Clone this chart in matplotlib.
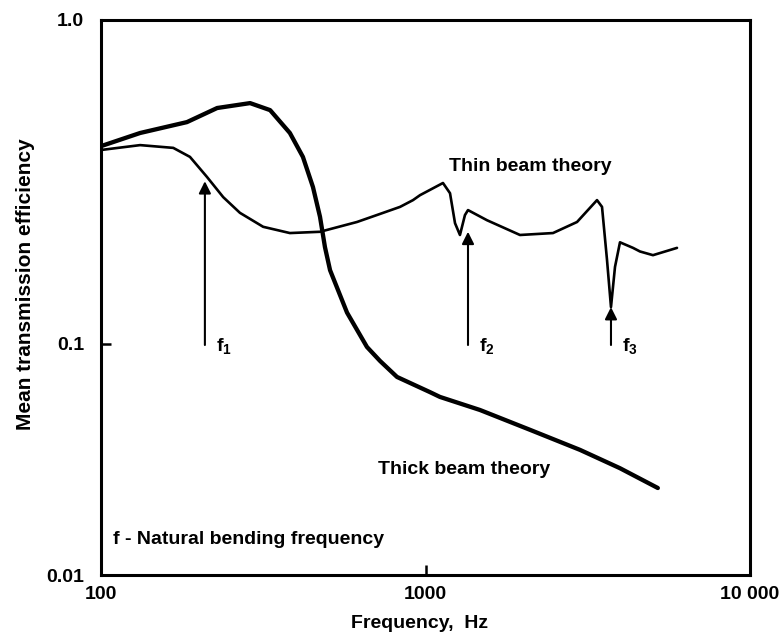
import numpy as np
import matplotlib
matplotlib.use("Agg")
import matplotlib.pyplot as plt
from matplotlib.ticker import FixedLocator, NullLocator, FixedFormatter

plt.rcParams["font.family"] = ["Liberation Sans", "DejaVu Sans"]
plt.rcParams["mathtext.fontset"] = "custom"
plt.rcParams["mathtext.rm"] = "Liberation Sans:bold"

# thick beam theory curve
thick_f = [100, 132, 184, 228, 288, 332, 382, 419, 450, 473, 490, 508, 573,
           660, 724, 817, 1032, 1108, 1472, 2100, 2994, 3973, 5200]
thick_eff = [0.408, 0.448, 0.484, 0.535, 0.554, 0.527, 0.448, 0.378, 0.305,
             0.247, 0.199, 0.169, 0.125, 0.0971, 0.0845, 0.0720, 0.0619,
             0.0590, 0.0518, 0.0425, 0.0348, 0.0290, 0.0238]

# thin beam theory curve
thin_f = [100, 132, 167, 188, 212, 238, 268, 316, 382, 473, 615, 724, 835,
          915, 962, 1132, 1190, 1233, 1277, 1323, 1352, 1547, 1955, 2471,
          2931, 3377, 3499, 3625, 3729, 3837, 3975, 4360, 4581, 5024, 5957]
thin_eff = [0.397, 0.411, 0.403, 0.378, 0.328, 0.284, 0.254, 0.230, 0.220,
            0.222, 0.238, 0.252, 0.265, 0.278, 0.288, 0.314, 0.292, 0.236,
            0.217, 0.250, 0.259, 0.241, 0.217, 0.220, 0.238, 0.278, 0.265,
            0.182, 0.130, 0.173, 0.206, 0.198, 0.193, 0.188, 0.198]

# natural bending frequencies (arrow x, arrow tip on curve)
nat_f = [209, 1352, 3729]
nat_tip = [0.318, 0.222, 0.130]
nat_base = 0.099
nat_labels = [r"f$_{\mathregular{1}}$", r"f$_{\mathregular{2}}$", r"f$_{\mathregular{3}}$"]

yticks = [0.01, 0.1, 1.0]
ytick_labels = ["0.01", "0.1", "1.0"]
xticks = [100, 1000, 10000]
xtick_labels = ["100", "1000", "10 000"]

# the printed y axis has unequal decades (upper one taller)
UP, LO = 324 / 231, 1.0


def _fwd(v):
    lv = np.log10(np.clip(np.asarray(v, dtype=float), 1e-12, None))
    return np.where(lv >= -1, (lv + 1) * UP, (lv + 1) * LO)


def _inv(t):
    t = np.asarray(t, dtype=float)
    return np.where(t >= 0, 10 ** (t / UP - 1), 10 ** (t / LO - 1))


fig = plt.figure(figsize=(7.84, 6.4), dpi=100, facecolor="white")
ax = fig.add_axes([101 / 784, 1 - 575 / 640, 649 / 784, 555 / 640])

ax.set_xscale("log")
ax.set_yscale("function", functions=(_fwd, _inv))
ax.set_xlim(100, 10000)
ax.set_ylim(0.01, 1.0)

ax.plot(thick_f, thick_eff, color="black", lw=3.1,
        solid_capstyle="round", solid_joinstyle="round")
ax.plot(thin_f, thin_eff, color="black", lw=1.9,
        solid_capstyle="round", solid_joinstyle="round")

for f, tip, lab in zip(nat_f, nat_tip, nat_labels):
    ax.annotate("", xy=(f, tip), xytext=(f, nat_base),
                arrowprops=dict(arrowstyle="-|>", color="black", lw=1.5,
                                mutation_scale=18, shrinkA=0, shrinkB=0))
    ax.text(f * 1.08, nat_base * 0.985, lab, fontsize=14, fontweight="bold",
            ha="left", va="center")

txt = dict(fontsize=14, fontweight="bold", va="center")
ax.text(2099, 0.352, "Thin beam theory", ha="center", **txt)
ax.text(714, 0.0285, "Thick beam theory", ha="left", **txt)
ax.text(109, 0.0142, "f - Natural bending frequency", ha="left", **txt)

ax.xaxis.set_major_locator(FixedLocator(xticks))
ax.xaxis.set_major_formatter(FixedFormatter(xtick_labels))
ax.xaxis.set_minor_locator(NullLocator())
ax.yaxis.set_major_locator(FixedLocator(yticks))
ax.yaxis.set_major_formatter(FixedFormatter(ytick_labels))
ax.yaxis.set_minor_locator(NullLocator())
ax.tick_params(direction="in", length=7, width=1.8, labelsize=14)
ax.tick_params(axis="x", pad=8)
ax.tick_params(axis="y", pad=12)
for lab in ax.get_xticklabels() + ax.get_yticklabels():
    lab.set_fontweight("bold")

for sp in ax.spines.values():
    sp.set_linewidth(2.2)

ax.set_xlabel("Frequency,  Hz", fontsize=14, fontweight="bold", va="center")
ax.xaxis.set_label_coords(0.4915, -0.0865)
ax.set_ylabel("Mean transmission efficiency", fontsize=15,
              fontweight="bold", va="center")
ax.yaxis.set_label_coords(-0.117, 0.524)

fig.savefig("out.png", dpi=100, facecolor="white")
